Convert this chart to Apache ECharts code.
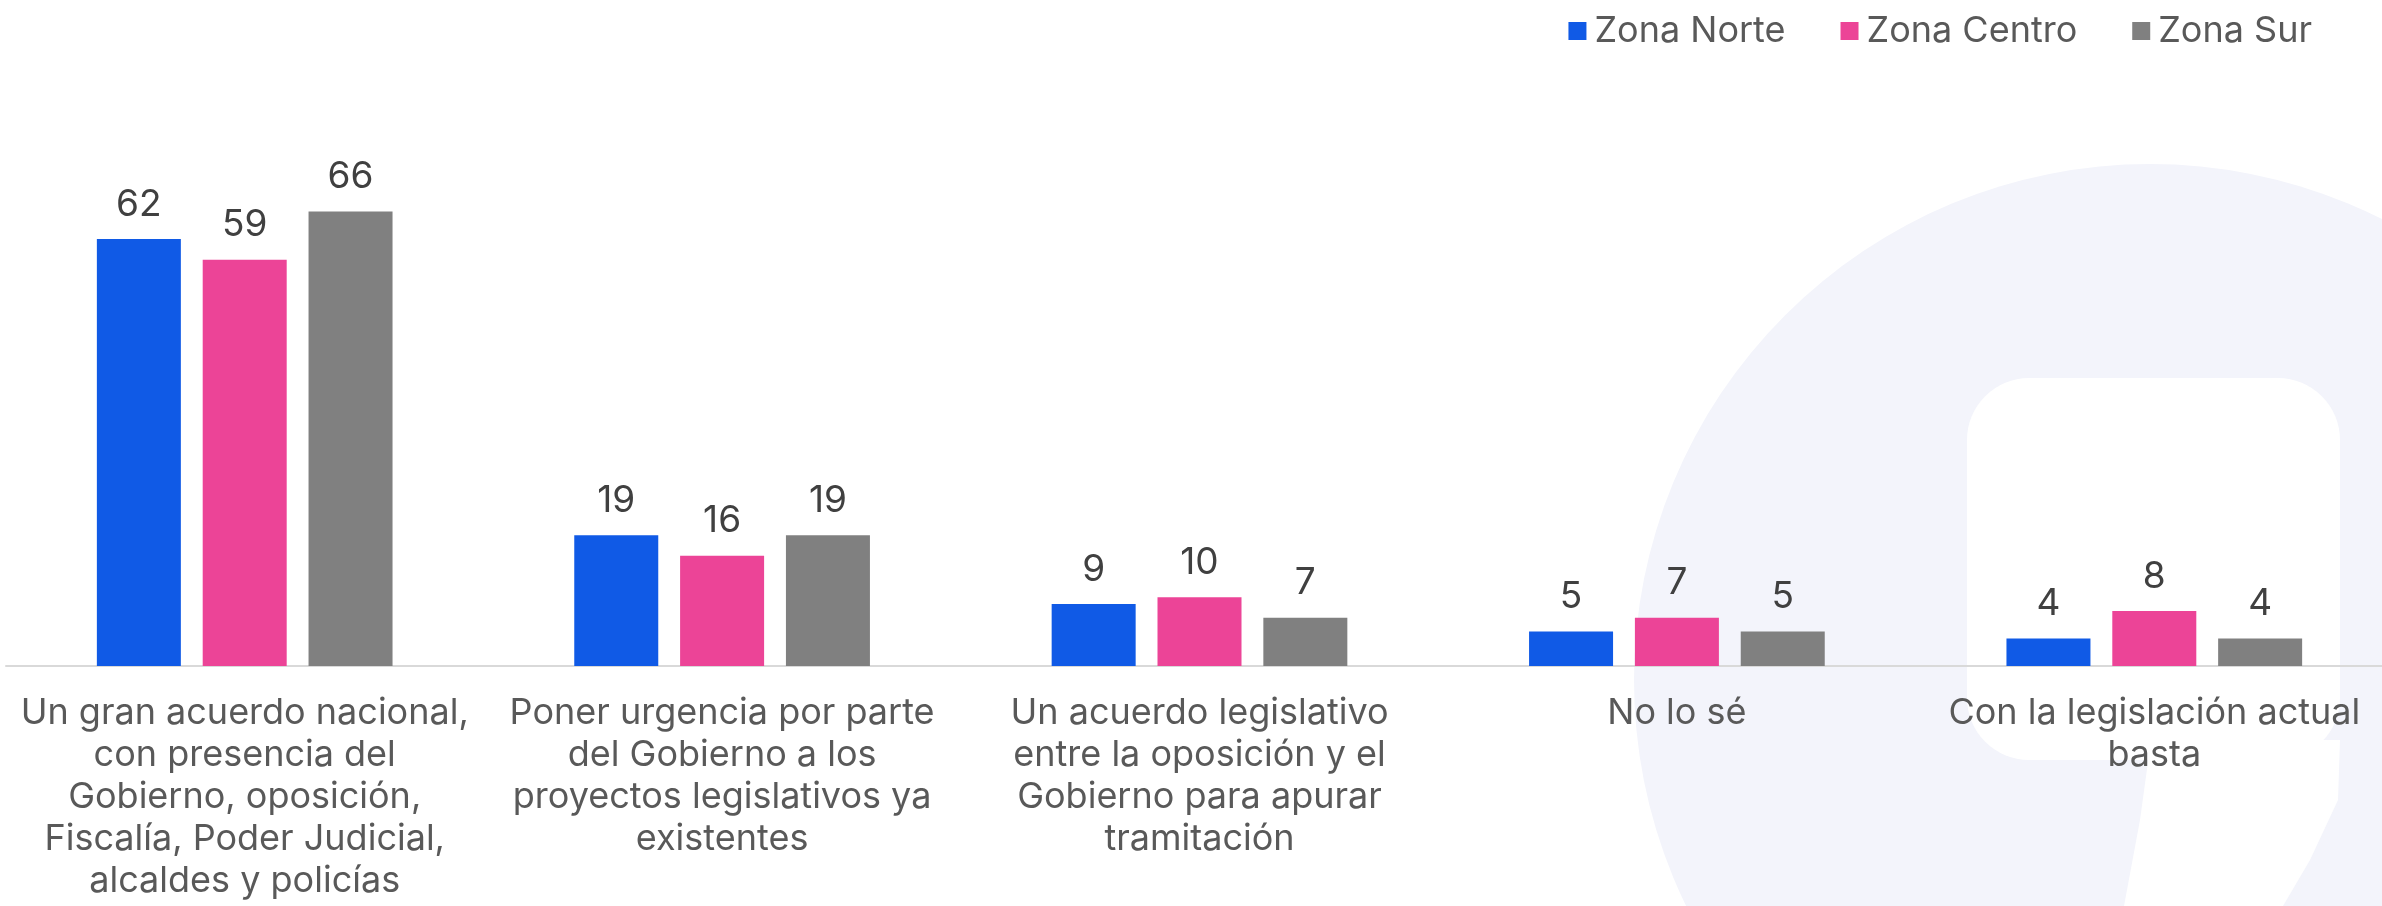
<!DOCTYPE html>
<html lang="es">
  <head>
    <meta charset="UTF-8" />
    <title>Acuerdo por zona</title>
    <script src="https://cdn.jsdelivr.net/npm/echarts@6/dist/echarts.min.js"></script>
    <style>
      html, body { margin: 0; padding: 0; background: #fff; }
    </style>
  </head>
  <body>
    <div id="main" style="width: 2382px; height: 906px"></div>
    <script type="text/javascript">
      const categories = [
        "Un gran acuerdo nacional,\ncon presencia del\nGobierno, oposición,\nFiscalía, Poder Judicial,\nalcaldes y policías",
        "Poner urgencia por parte\ndel Gobierno a los\nproyectos legislativos ya\nexistentes",
        "Un acuerdo legislativo\nentre la oposición y el\nGobierno para apurar\ntramitación",
        "No lo sé",
        "Con la legislación actual\nbasta",
      ];
      const seriesNames = ["Zona Norte", "Zona Centro", "Zona Sur"];
      const zonaNorte = [62, 19, 9, 5, 4];
      const zonaCentro = [59, 16, 10, 7, 8];
      const zonaSur = [66, 19, 7, 5, 4];
      const colors = ["#105ae6", "#ec4497", "#808080"];

      const fontFamily = "Inter, 'Noto Sans', sans-serif";
      let myChart = echarts.init(document.getElementById("main"));

      const makeSeries = (name, data, color) => ({
        name: name,
        type: "bar",
        data: data,
        barWidth: 84,
        barGap: "26%",
        itemStyle: { color: color },
        label: {
          show: true,
          position: "top",
          distance: 16,
          color: "#404040",
          fontSize: 37,
          fontFamily: fontFamily,
        },
      });

      let options = {
        animation: false,
        textStyle: { fontFamily: fontFamily },
        // watermark logo shape behind the bars
        graphic: {
          elements: [
            {
              type: "circle",
              z: -10,
              silent: true,
              shape: { cx: 2150, cy: 680, r: 516 },
              style: { fill: "#f3f4fb" },
            },
            {
              type: "rect",
              z: -9,
              silent: true,
              shape: { x: 1967, y: 378, width: 373, height: 382, r: 62 },
              style: { fill: "#ffffff" },
            },
            {
              type: "polygon",
              z: -9,
              silent: true,
              shape: {
                points: [
                  [2151, 740],
                  [2340, 740],
                  [2338, 800],
                  [2310, 860],
                  [2283, 906],
                  [2124, 906],
                  [2140, 820],
                ],
              },
              style: { fill: "#ffffff" },
            },
          ],
        },
        legend: {
          data: seriesNames,
          right: 65,
          top: 8,
          itemWidth: 18,
          itemHeight: 18,
          itemGap: 55,
          icon: "rect",
          textStyle: { fontSize: 36, color: "#595959", padding: [0, 0, 0, 3] },
        },
        grid: {
          left: 6,
          right: -11,
          top: 115,
          bottom: 240,
          outerBoundsMode: "none",
        },
        xAxis: {
          type: "category",
          data: categories,
          axisLine: { lineStyle: { color: "#d9d9d9", width: 2 } },
          axisTick: { show: false },
          axisLabel: {
            interval: 0,
            fontSize: 36,
            lineHeight: 42,
            color: "#595959",
            margin: 26,
            align: "center",
          },
        },
        yAxis: {
          type: "value",
          min: 0,
          max: 80,
          show: false,
          splitLine: { show: false },
        },
        series: [
          makeSeries(seriesNames[0], zonaNorte, colors[0]),
          makeSeries(seriesNames[1], zonaCentro, colors[1]),
          makeSeries(seriesNames[2], zonaSur, colors[2]),
        ],
      };

      myChart.setOption(options);
    </script>
  </body>
</html>
